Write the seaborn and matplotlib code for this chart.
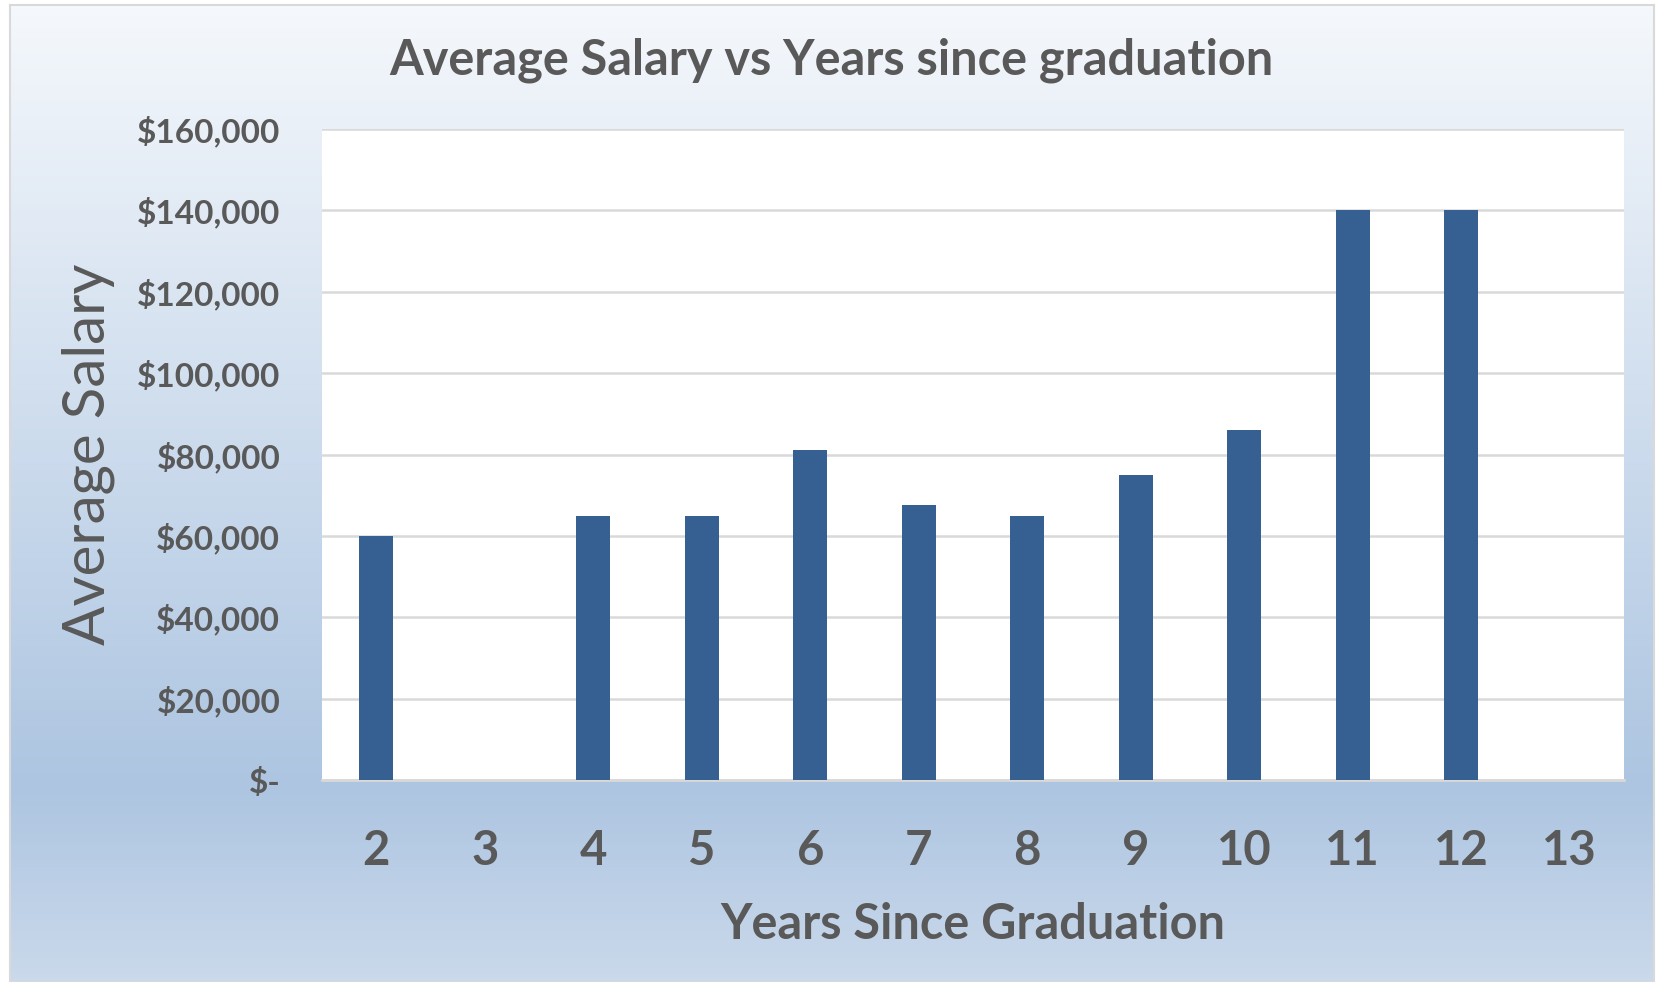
import numpy as np
import pandas as pd
import matplotlib
matplotlib.use("Agg")
import matplotlib.pyplot as plt
from matplotlib.colors import LinearSegmentedColormap
from matplotlib.ticker import FuncFormatter
import seaborn as sns

# data
years = ["2", "3", "4", "5", "6", "7", "8", "9", "10", "11", "12", "13"]
salary = [60000, 0, 65000, 65000, 81000, 67500, 65000, 75000, 86000, 140000, 140000, 0]
y_ticks = [0, 20000, 40000, 60000, 80000, 100000, 120000, 140000, 160000]

df = pd.DataFrame({"Years": years, "Salary": salary})

sns.set_theme(style="white")
plt.rcParams["font.family"] = ["Lato", "DejaVu Sans"]

txt = "#595959"
fig = plt.figure(figsize=(16.57, 9.82), dpi=100)

# gradient background panel
bg = fig.add_axes([0.006, 0.0, 0.992, 0.995], zorder=0)
grad = LinearSegmentedColormap.from_list(
    "bg", [(0.0, "#f5f8fc"), (0.80, "#adc5e1"), (1.0, "#cad9eb")])
bg.imshow(np.linspace(0, 1, 256).reshape(-1, 1), aspect="auto", cmap=grad,
          extent=[0, 1, 1, 0])
bg.set_xticks([])
bg.set_yticks([])
for s in bg.spines.values():
    s.set_color("#d9d9d9")
    s.set_linewidth(1.5)

ax = fig.add_axes([322 / 1657, 1 - 780 / 982, (1624 - 322) / 1657, (780 - 129) / 982], zorder=1)
ax.set_facecolor("white")
sns.barplot(data=df, x="Years", y="Salary", order=years, color="#366092",
            saturation=1, width=0.31, linewidth=0, ax=ax, zorder=3)

ax.set_ylim(0, 160000)
ax.set_yticks(y_ticks)
ax.yaxis.set_major_formatter(FuncFormatter(lambda v, p: "$-" if v == 0 else f"${v:,.0f}"))
ax.grid(axis="y", color="#d9d9d9", linewidth=1.8, zorder=0)
ax.set_axisbelow(True)
for s in ["top", "right", "left"]:
    ax.spines[s].set_visible(False)
ax.spines["bottom"].set_color("#d9d9d9")
ax.spines["bottom"].set_linewidth(2)

ax.tick_params(axis="y", labelsize=24, colors=txt, pad=30, length=0)
ax.tick_params(axis="x", labelsize=34, colors=txt, pad=35, length=0)
for lab in ax.get_yticklabels() + ax.get_xticklabels():
    lab.set_fontweight("bold")

ax.set_xlabel("Years Since Graduation", fontsize=35, fontweight="bold", color=txt, labelpad=21)
ax.set_ylabel("Average Salary", fontsize=42, color=txt, labelpad=16)

fig.text(0.502, 1 - 60 / 982, "Average Salary vs Years since graduation", ha="center", va="center",
         fontsize=35, fontweight="bold", color=txt)

fig.savefig("out.png", dpi=100)
